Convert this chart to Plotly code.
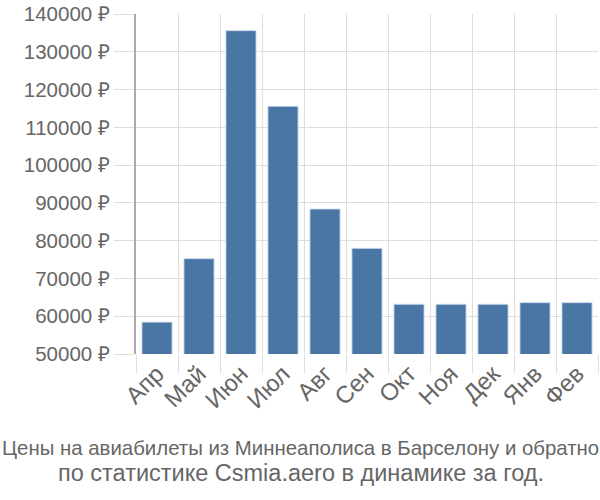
import plotly.graph_objects as go

months = ["Апр", "Май", "Июн", "Июл", "Авг", "Сен", "Окт", "Ноя", "Дек", "Янв", "Фев"]
prices = [58450, 75250, 135600, 115600, 88400, 78000, 63200, 63200, 63200, 63600, 63600]
tick_vals = [50000, 60000, 70000, 80000, 90000, 100000, 110000, 120000, 130000, 140000]
tick_text = [f"{v} ₽" for v in tick_vals]
title_line1 = "Цены на авиабилеты из Миннеаполиса в Барселону и обратно"
title_line2 = "по статистике Csmia.aero в динамике за год."

font_family = "Liberation Sans, Arial, sans-serif"
text_color = "#666666"

L, R, T, B = 136, 2, 14, 146
W, H = 600, 500
plot_w = W - L - R
plot_h = H - T - B

def px_x(x):
    return (x - L) / plot_w

def px_y(y):
    return (H - B - y) / plot_h

fig = go.Figure(
    go.Bar(
        x=months,
        y=prices,
        marker=dict(color="#4a76a6", line=dict(color="rgba(220,230,242,0.9)", width=1)),
    )
)

fig.update_layout(
    width=W,
    height=H,
    margin=dict(l=L, r=R, t=T, b=B),
    plot_bgcolor="white",
    paper_bgcolor="white",
    bargap=0.28,
    showlegend=False,
    font=dict(family=font_family, color=text_color, size=20),
    annotations=[
        dict(text=title_line1, x=px_x(300), y=px_y(448), xref="paper", yref="paper",
             xanchor="center", yanchor="middle", showarrow=False,
             font=dict(size=20.4, color=text_color)),
        dict(text=title_line2, x=px_x(301), y=px_y(473), xref="paper", yref="paper",
             xanchor="center", yanchor="middle", showarrow=False,
             font=dict(size=23.5, color=text_color)),
    ],
)

fig.update_xaxes(
    type="category",
    tickson="boundaries",
    showgrid=True,
    gridcolor="#dddddd",
    gridwidth=1,
    ticks="outside",
    ticklen=18,
    tickcolor="#dddddd",
    tickangle=-45,
    tickfont=dict(size=24, color=text_color),
    showline=False,
)
fig.update_yaxes(
    range=[50000, 140000],
    tickvals=tick_vals,
    ticktext=tick_text,
    showgrid=True,
    gridcolor="#dddddd",
    gridwidth=1,
    ticks="outside",
    ticklen=20,
    tickcolor="#dddddd",
    showline=True,
    linecolor="#aaaaaa",
    linewidth=2,
    tickfont=dict(size=20.5, color=text_color),
    zeroline=False,
)

fig.write_html("out.html")
